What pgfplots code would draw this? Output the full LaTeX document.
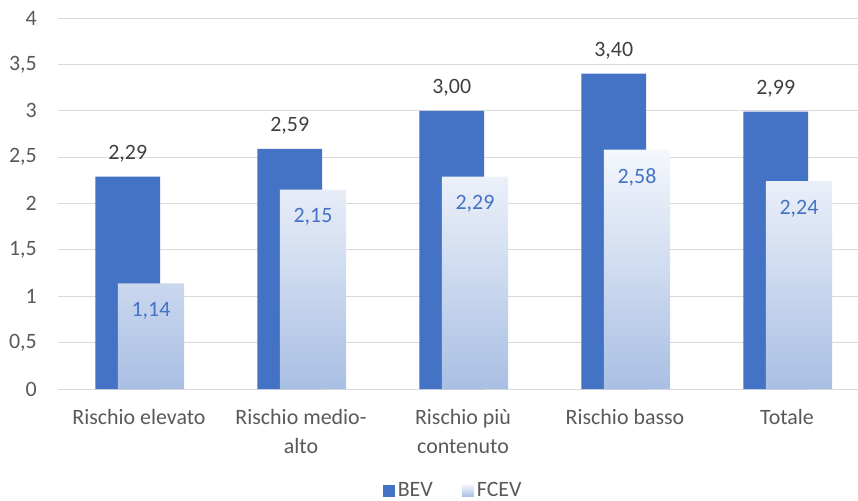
\documentclass[border=0pt]{standalone}
\usepackage{pgfplots}
\pgfplotsset{compat=1.18}
\usepackage{fontspec}
\setmainfont{Carlito}
\definecolor{bev}{HTML}{4472C4}
\definecolor{fctop}{HTML}{F4F7FC}
\definecolor{fcbot}{HTML}{A9BFE3}
\definecolor{gridc}{HTML}{D9D9D9}
\definecolor{tickc}{HTML}{595959}
\definecolor{lblc}{HTML}{404040}
\newcommand{\fs}{\fontsize{22}{28.3}\selectfont}
\begin{document}
\begin{tikzpicture}
\path[use as bounding box] (-58bp,-112bp) rectangle (800bp,389bp);
\begin{axis}[
  at={(0,0)}, anchor=south west,
  scale only axis, width=810bp, height=371bp,
  xmin=-0.5, xmax=4.5, ymin=0, ymax=4,
  xtick={0,1,2,3,4},
  xticklabels={Rischio elevato, {Rischio medio-\\alto}, {Rischio più\\contenuto}, Rischio basso, Totale},
  ytick={0,0.5,1,1.5,2,2.5,3,3.5,4},
  /pgf/number format/use comma,
  /pgf/number format/assume math mode=true,
  major tick length=0,
  tick style={draw=none},
  axis line style={draw=none},
  ymajorgrids,
  major grid style={draw=gridc, line width=0.8bp},
  xticklabel style={align=center, anchor=north, inner sep=0, yshift=-20.5bp, font=\fs, text=tickc},
  yticklabel style={anchor=east, inner sep=0, xshift=-21bp, font=\fs, text=tickc},
  legend columns=2,
  legend style={at={(0.401,0)}, anchor=west, yshift=-101.5bp, draw=none, fill=none,
    inner sep=0, outer sep=0, font=\fs, text=tickc, nodes={inner sep=0pt},
    /tikz/every odd column/.append style={column sep=3bp},
    /tikz/every even column/.append style={column sep=29bp}},
  legend image code/.code={\path[#1] (0bp,-6bp) rectangle (12bp,6bp);},
]
\addplot[ybar, bar width=0.40, bar shift=-0.07, fill=bev, draw=none,
  point meta=y,
  nodes near coords={\pgfmathprintnumber[fixed,fixed zerofill,precision=2]{\pgfplotspointmeta}},
  every node near coord/.append style={anchor=south, inner sep=0, yshift=14bp, xshift=-11.3bp, font=\fs, text=lblc}]
  coordinates {(0,2.29) (1,2.59) (2,3.00) (3,3.40) (4,2.99)};
\addlegendentry{BEV}
\addplot[ybar, bar width=0.41, bar shift=0.074, draw=none, top color=fctop, bottom color=fcbot,
  point meta=y,
  nodes near coords={\pgfmathprintnumber[fixed,fixed zerofill,precision=2]{\pgfplotspointmeta}},
  every node near coord/.append style={anchor=north, inner sep=0, yshift=-18.5bp, xshift=12bp, font=\fs, text=bev}]
  coordinates {(0,1.14) (1,2.15) (2,2.29) (3,2.58) (4,2.24)};
\addlegendentry{FCEV}
\end{axis}
\end{tikzpicture}
\end{document}
